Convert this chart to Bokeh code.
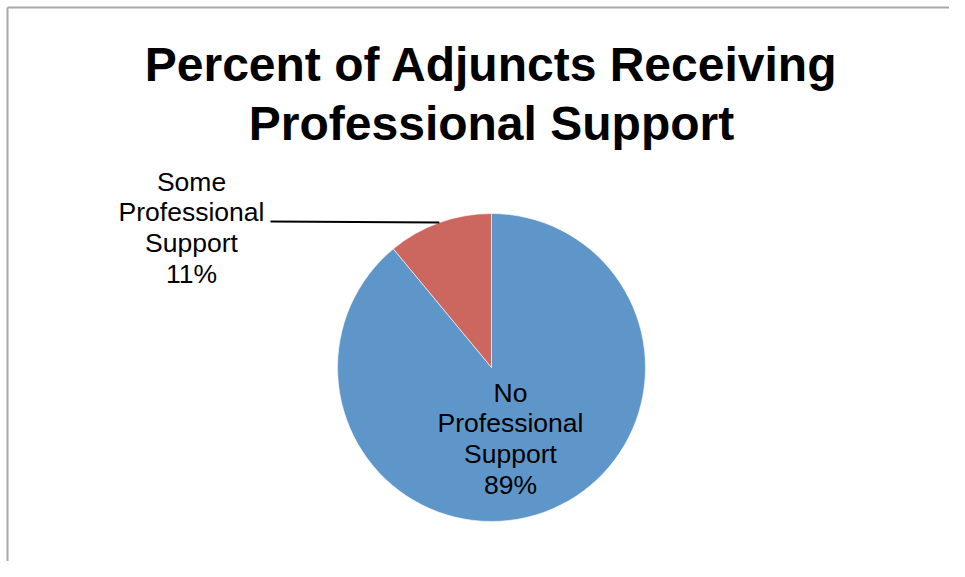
import math
from bokeh.plotting import figure
from bokeh.models import Range1d, ColumnDataSource
from bokeh.embed import file_html
from bokeh.resources import INLINE
from bokeh.core.properties import value

# ---- data ----
categories = ["No Professional Support", "Some Professional Support"]
percents = [89, 11]
colors = ["#5F96C9", "#CC6760"]
label_lines = [["No", "Professional", "Support", "89%"],
               ["Some", "Professional", "Support", "11%"]]
title_lines = ["Percent of Adjuncts Receiving", "Professional Support"]

# ---- layout (pixel coordinates of the picture) ----
W, H = 949, 561
FONT = value("Liberation Sans")

p = figure(width=W, height=H, output_backend="svg", toolbar_location=None,
           x_range=Range1d(0, W), y_range=Range1d(-H, 0),
           min_border=0, outline_line_color=None, background_fill_color="white",
           border_fill_color="white")
p.xaxis.visible = False
p.yaxis.visible = False
p.grid.visible = False

# frame lines (left and top only visible in the reference)
p.segment(x0=[7, 7], y0=[-7, -7], x1=[7, W + 20], y1=[-(H + 20), -7],
          line_color="#A8A8A8", line_width=2)

# pie
cx, cy, R = 491, -367, 154
total = sum(percents)
starts, ends, mids = [], [], []
a = math.pi / 2
for v in percents:
    b = a - v / total * 2 * math.pi
    starts.append(b)
    ends.append(a)
    mids.append((a + b) / 2)
    a = b
src = ColumnDataSource(dict(start=starts, end=ends, color=colors, cat=categories))
p.wedge(x=cx, y=cy, radius=R, start_angle="start", end_angle="end",
        fill_color="color", line_color="white", line_width=0.6, source=src)

# title
for i, t in enumerate(title_lines):
    p.text(x=[491], y=[-(64 + 59 * i)], text=[t], text_font=FONT,
           text_font_style="bold", text_font_size="48px", text_color="black",
           text_align="center", text_baseline="alphabetic")

# data labels
label_pos = [(510, 392), (191, 181)]
LS = 30.8
for (lx, ly), lines in zip(label_pos, label_lines):
    for j, t in enumerate(lines):
        p.text(x=[lx], y=[-(ly + LS * j)], text=[t], text_font=FONT,
               text_font_size="26.5px", text_color="black",
               text_align="center", text_baseline="alphabetic")

# leader line for the small slice
m = mids[1]
p.segment(x0=[270], y0=[-221], x1=[cx + R * math.cos(m)], y1=[cy + R * math.sin(m)],
          line_color="black", line_width=2)

open("out.html", "w").write(file_html(p, INLINE))
